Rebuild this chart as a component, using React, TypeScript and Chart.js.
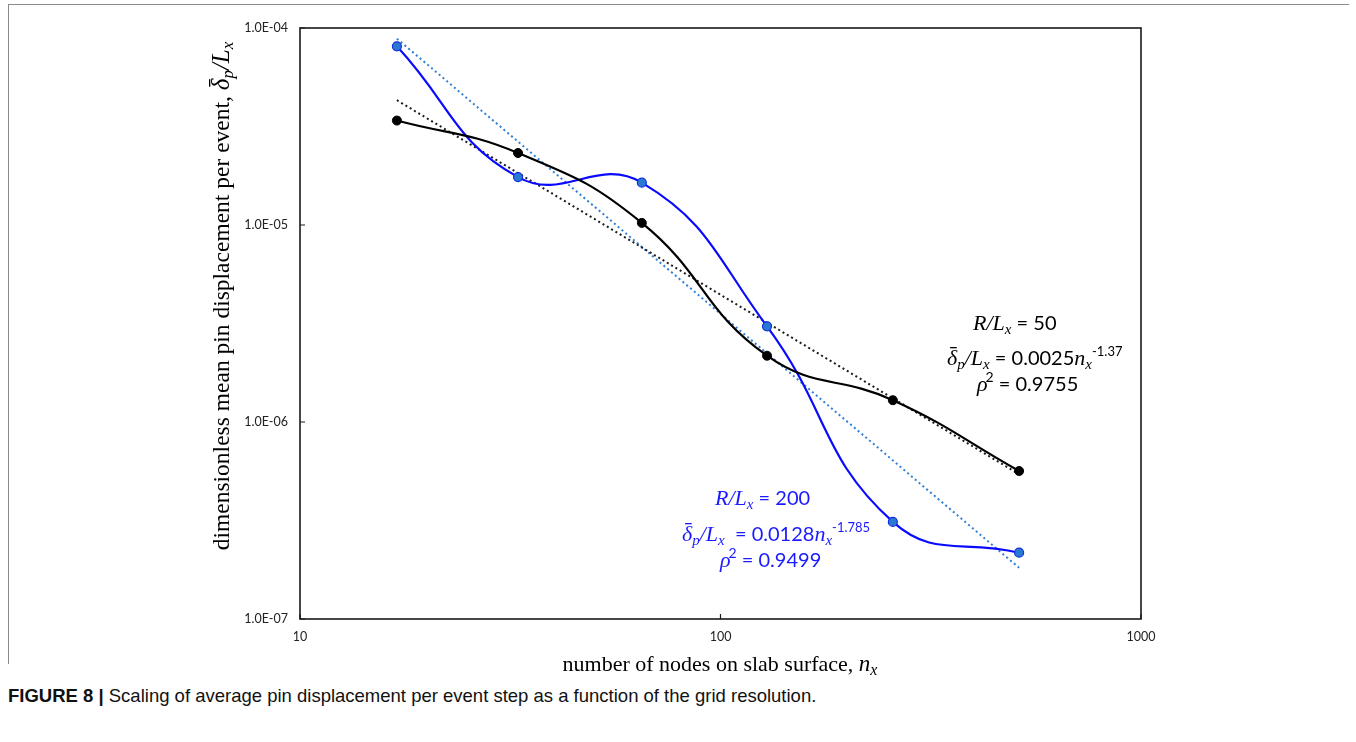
import React, { useEffect, useRef } from "react";
import { Chart, registerables } from "chart.js";

Chart.register(...registerables);

// ---- data ----
const nodes = [17, 33, 65, 129, 257, 513];
const dispR50 = [3.39e-5, 2.32e-5, 1.025e-5, 2.17e-6, 1.29e-6, 5.64e-7];
const dispR200 = [8.07e-5, 1.75e-5, 1.64e-5, 3.06e-6, 3.11e-7, 2.17e-7];
const trendNodes = [17, 513];
const trendR50 = [4.3e-5, 5.43e-7];
const trendR200 = [8.83e-5, 1.82e-7];
const xTickValues = [10, 100, 1000];
const xTickLabels = ["10", "100", "1000"];
const yTickValues = [1e-7, 1e-6, 1e-5, 1e-4];
const yTickLabels = ["1.0E-07", "1.0E-06", "1.0E-05", "1.0E-04"];
const seriesNames = ["R/Lx = 50", "R/Lx = 200", "fit R/Lx = 50", "fit R/Lx = 200"];
const captionBold = "FIGURE 8 |";
const captionText = " Scaling of average pin displacement per event step as a function of the grid resolution.";

type Seg = { t: string; f: string; dy?: number; bar?: boolean; kern?: number };

const SERIF_I = (n: number) => `italic ${n}px "Liberation Serif", "DejaVu Serif", serif`;
const SERIF = (n: number) => `${n}px "Liberation Serif", "DejaVu Serif", serif`;
const SANS = (n: number) => `${n}px Lato, "Open Sans", sans-serif`;

function segsWidth(ctx: CanvasRenderingContext2D, segs: Seg[]) {
  let w = 0;
  for (const s of segs) {
    ctx.font = s.f;
    w += ctx.measureText(s.t).width + (s.kern || 0);
  }
  return w;
}

function drawSegs(ctx: CanvasRenderingContext2D, segs: Seg[], x: number, y: number, color: string, barUp = 18) {
  let cx = x;
  ctx.fillStyle = color;
  ctx.textBaseline = "alphabetic";
  ctx.textAlign = "left";
  for (const s of segs) {
    ctx.font = s.f;
    const w = ctx.measureText(s.t).width;
    ctx.fillText(s.t, cx, y + (s.dy || 0));
    if (s.bar) {
      ctx.fillRect(cx + w * 0.3, y - barUp, w * 0.65, 1.3);
    }
    cx += w + (s.kern || 0);
  }
}

const annoBlack: Seg[][] = [
  [
    { t: "R/L", f: SERIF_I(22) },
    { t: "x", f: SERIF_I(15), dy: 4 },
    { t: " = 50", f: SANS(20) },
  ],
  [
    { t: "δ", f: SERIF_I(22), bar: true },
    { t: "p", f: SERIF_I(15), dy: 4 },
    { t: "/L", f: SERIF_I(22) },
    { t: "x", f: SERIF_I(15), dy: 4 },
    { t: " = 0.0025", f: SANS(20) },
    { t: "n", f: SERIF_I(22) },
    { t: "x", f: SERIF_I(15), dy: 4 },
    { t: "-1.37", f: SANS(13), dy: -9 },
  ],
  [
    { t: "ρ", f: SERIF_I(22), kern: -2 },
    { t: "2", f: SANS(14), dy: -9 },
    { t: " = 0.9755", f: SANS(20) },
  ],
];

const annoBlue: Seg[][] = [
  [
    { t: "R/L", f: SERIF_I(22) },
    { t: "x", f: SERIF_I(15), dy: 4 },
    { t: " = 200", f: SANS(20) },
  ],
  [
    { t: "δ", f: SERIF_I(22), bar: true },
    { t: "p", f: SERIF_I(15), dy: 4 },
    { t: "/L", f: SERIF_I(22) },
    { t: "x", f: SERIF_I(15), dy: 4 },
    { t: "  = 0.0128", f: SANS(20) },
    { t: "n", f: SERIF_I(22) },
    { t: "x", f: SERIF_I(15), dy: 4 },
    { t: "-1.785", f: SANS(13), dy: -9 },
  ],
  [
    { t: "ρ", f: SERIF_I(22), kern: -2 },
    { t: "2", f: SANS(14), dy: -9 },
    { t: " = 0.9499", f: SANS(20) },
  ],
];

const yTitle: Seg[] = [
  { t: "dimensionless mean pin displacement per event, ", f: SERIF(23.5) },
  { t: "δ", f: SERIF_I(25), bar: true },
  { t: "p", f: SERIF_I(17), dy: 4 },
  { t: "/L", f: SERIF_I(25) },
  { t: "x", f: SERIF_I(17), dy: 4 },
];

const xTitle: Seg[] = [
  { t: "number of nodes on slab surface, ", f: SERIF(22) },
  { t: "n", f: SERIF_I(23) },
  { t: "x", f: SERIF_I(16), dy: 4 },
];

const decorPlugin = {
  id: "decor",
  afterDatasetsDraw(chart: any) {
    const ctx: CanvasRenderingContext2D = chart.ctx;
    const a = chart.chartArea;
    const xs = chart.scales.x;
    const ys = chart.scales.y;
    ctx.save();
    // frame
    ctx.strokeStyle = "#1a1a1a";
    ctx.lineWidth = 1.6;
    ctx.strokeRect(a.left, a.top, a.right - a.left, a.bottom - a.top);
    // inward tick marks
    ctx.lineWidth = 1.2;
    ctx.beginPath();
    for (const v of yTickValues) {
      const py = ys.getPixelForValue(v);
      ctx.moveTo(a.left, py);
      ctx.lineTo(a.left + 5, py);
    }
    for (const v of xTickValues) {
      const px = xs.getPixelForValue(v);
      ctx.moveTo(px, a.bottom);
      ctx.lineTo(px, a.bottom - 5);
    }
    ctx.stroke();

    // annotations
    const blackLeft = [973, 947, 977];
    const blackBase = [330, 365, 391];
    annoBlack.forEach((segs, i) => drawSegs(ctx, segs, blackLeft[i], blackBase[i], "#000"));
    const blueLeft = [715, 682, 720];
    const blueBase = [505, 541, 567];
    annoBlue.forEach((segs, i) => drawSegs(ctx, segs, blueLeft[i], blueBase[i], "#1a1aff"));

    // x title
    const wx = segsWidth(ctx, xTitle);
    drawSegs(ctx, xTitle, 720 - wx / 2, 671, "#000");

    // y title
    const wy = segsWidth(ctx, yTitle);
    ctx.translate(221, 296);
    ctx.rotate(-Math.PI / 2);
    drawSegs(ctx, yTitle, -wy / 2, 8, "#000", 20);
    ctx.restore();
  },
};

export default function App() {
  const ref = useRef<HTMLCanvasElement | null>(null);

  useEffect(() => {
    if (!ref.current) return;
    const pts = (xs: number[], ys: number[]) => xs.map((x, i) => ({ x, y: ys[i] }));
    const chart = new Chart(ref.current, {
      type: "line",
      data: {
        datasets: [
          {
            label: seriesNames[0],
            data: pts(nodes, dispR50),
            borderColor: "#000000",
            backgroundColor: "#000000",
            borderWidth: 2.2,
            pointRadius: 4.5,
            pointBorderWidth: 1,
            pointBorderColor: "#000000",
            tension: 0.45,
            order: 1,
          },
          {
            label: seriesNames[1],
            data: pts(nodes, dispR200),
            borderColor: "#0a0aff",
            backgroundColor: "#2a78d2",
            borderWidth: 2.2,
            pointRadius: 4.5,
            pointBorderWidth: 1.2,
            pointBorderColor: "#1030e0",
            tension: 0.45,
            order: 2,
          },
          {
            label: seriesNames[2],
            data: pts(trendNodes, trendR50),
            borderColor: "#1a1a1a",
            borderWidth: 2,
            borderDash: [2, 3],
            pointRadius: 0,
            tension: 0,
            order: 3,
          },
          {
            label: seriesNames[3],
            data: pts(trendNodes, trendR200),
            borderColor: "#2f80d4",
            borderWidth: 2,
            borderDash: [2, 3],
            pointRadius: 0,
            tension: 0,
            order: 4,
          },
        ],
      },
      options: {
        responsive: false,
        animation: false,
        parsing: true,
        layout: { padding: { left: 0, top: 28, right: 215, bottom: 0 } },
        plugins: { legend: { display: false }, tooltip: { enabled: false } },
        scales: {
          x: {
            type: "logarithmic",
            min: 10,
            max: 1000,
            grid: { display: false, drawTicks: false },
            border: { display: false },
            ticks: {
              autoSkip: false,
              maxRotation: 0,
              padding: 10,
              color: "#222",
              font: { family: "Lato", size: 12.5 },
              callback: (v: any) => {
                const i = xTickValues.indexOf(Number(v));
                return i >= 0 ? xTickLabels[i] : "";
              },
            },
            afterBuildTicks: (s: any) => {
              s.ticks = xTickValues.map((v) => ({ value: v }));
            },
            afterFit: (s: any) => {
              s.height = 61;
            },
          },
          y: {
            type: "logarithmic",
            min: 1e-7,
            max: 1e-4,
            grid: { display: false, drawTicks: false },
            border: { display: false },
            ticks: {
              autoSkip: false,
              padding: 12,
              color: "#222",
              font: { family: "Lato", size: 12.5 },
              callback: (v: any) => {
                const i = yTickValues.findIndex((t) => Math.abs(t - Number(v)) / t < 1e-6);
                return i >= 0 ? yTickLabels[i] : "";
              },
            },
            afterBuildTicks: (s: any) => {
              s.ticks = yTickValues.map((v) => ({ value: v }));
            },
            afterFit: (s: any) => {
              s.width = 300;
            },
          },
        },
      },
      plugins: [decorPlugin],
    } as any);
    return () => chart.destroy();
  }, []);

  return (
    <div style={{ position: "absolute", left: 0, top: 0, width: 1356, height: 742, background: "#fff" }}>
      <div style={{ position: "absolute", left: 8, top: 4, width: 1341, height: 0, borderTop: "1px solid #8a8a8a" }} />
      <div style={{ position: "absolute", left: 8, top: 4, width: 0, height: 660, borderLeft: "1px solid #8a8a8a" }} />
      <canvas
        ref={ref}
        width={1356}
        height={680}
        style={{ position: "absolute", left: 0, top: 0, width: 1356, height: 680 }}
      />
      <div
        style={{
          position: "absolute",
          left: 8,
          top: 685,
          fontFamily: '"Liberation Sans Narrow", "Liberation Sans", Arial, sans-serif',
          fontSize: 18.5,
          lineHeight: "22px",
          color: "#111",
          whiteSpace: "nowrap",
        }}
      >
        <b>{captionBold}</b>
        {captionText}
      </div>
    </div>
  );
}
